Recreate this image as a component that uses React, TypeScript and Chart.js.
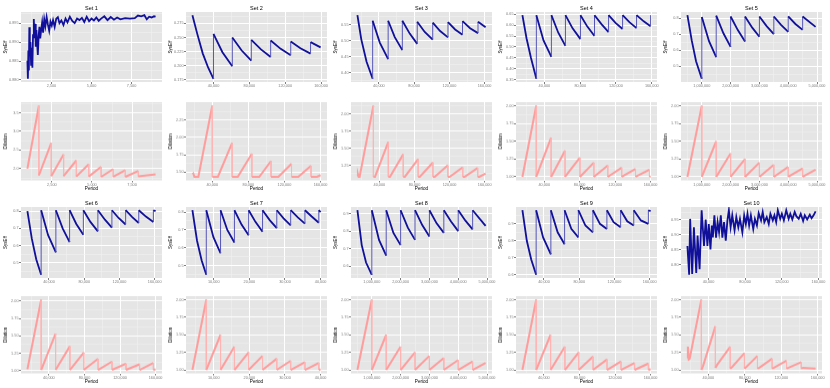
import React, { useEffect, useRef } from "react";
import { Chart, registerables } from "chart.js";

Chart.register(...registerables);

// ---------------- Set 1 ----------------
const set1EffPeriod = [1000, 1030, 1060, 1090, 1120, 1150, 1190, 1230, 1270, 1310, 1350, 1400, 1440, 1480, 1520, 1560, 1600, 1650, 1700, 1750, 1800, 1860, 1920, 1980, 2050, 2120, 2200, 2280, 2360, 2440, 2520, 2600, 2700, 2800, 2900, 3000, 3120, 3250, 3380, 3500, 3650, 3800, 3950, 4100, 4250, 4400, 4550, 4700, 4850, 5000, 5150, 5300, 5450, 5600, 5800, 6000, 6200, 6400, 6600, 6800, 7100, 7400, 7700, 7900, 8100, 8300, 8450, 8600, 8750, 8900, 9000];
const set1SysEff = [0.8851, 0.8803, 0.8878, 0.8825, 0.8939, 0.887, 0.89, 0.884, 0.8885, 0.8832, 0.8918, 0.8961, 0.891, 0.8948, 0.8888, 0.8932, 0.8902, 0.8866, 0.8915, 0.894, 0.891, 0.8932, 0.8952, 0.8925, 0.896, 0.8942, 0.8966, 0.8946, 0.893, 0.8954, 0.8944, 0.8958, 0.894, 0.8962, 0.8966, 0.895, 0.8957, 0.8945, 0.8962, 0.8952, 0.8967, 0.8956, 0.895, 0.8962, 0.8958, 0.8964, 0.8953, 0.8967, 0.8955, 0.8962, 0.8957, 0.8965, 0.8956, 0.8962, 0.8968, 0.8958, 0.8966, 0.8959, 0.8965, 0.896, 0.8963, 0.8962, 0.8963, 0.897, 0.8968, 0.8971, 0.896, 0.8967, 0.8965, 0.8968, 0.8967];
const set1EffXTicks = ["2,500", "5,000", "7,500"];
const set1EffYTicks = ["0.880", "0.885", "0.890", "0.895"];
const set1DilPeriod = [975, 1690, 1690, 2463, 2463, 3232, 3232, 4025, 4025, 4800, 4800, 5573, 5573, 6325, 6325, 7075, 7075, 7890, 7890, 8966];
const set1Dilation = [2.0, 3.69, 1.82, 2.69, 1.8, 2.38, 1.8, 2.22, 1.79, 2.12, 1.79, 2.05, 1.78, 1.99, 1.78, 1.96, 1.78, 1.94, 1.79, 1.85];
const set1DilXTicks = ["2,500", "5,000", "7,500"];
const set1DilYTicks = ["2.0", "2.5", "3.0", "3.5"];

// ---------------- Set 2 ----------------
const set2EffPeriod = [16500, 22000, 28000, 34000, 40000, 40000, 50000, 61000, 61000, 71500, 82200, 82200, 93000, 103800, 103800, 115000, 126200, 126200, 137000, 148300, 148300, 159500];
const set2SysEff = [0.2895, 0.256, 0.222, 0.197, 0.177, 0.2564, 0.224, 0.1994, 0.25, 0.227, 0.2093, 0.2459, 0.229, 0.2157, 0.2448, 0.23, 0.2186, 0.243, 0.231, 0.2215, 0.2419, 0.2326];
const set2EffXTicks = ["40,000", "80,000", "120,000", "160,000"];
const set2EffYTicks = ["0.175", "0.200", "0.225", "0.250", "0.275"];
const set2DilPeriod = [18000, 19000, 20200, 24600, 40000, 40000, 46200, 62000, 62000, 68200, 83900, 83900, 92000, 105100, 105100, 113200, 127800, 127800, 135200, 149400, 149400, 156000, 160000];
const set2Dilation = [1.47, 1.48, 1.43, 1.43, 2.46, 1.43, 1.43, 1.92, 1.43, 1.43, 1.765, 1.43, 1.43, 1.66, 1.43, 1.43, 1.62, 1.43, 1.43, 1.59, 1.43, 1.43, 1.455];
const set2DilXTicks = ["40,000", "80,000", "120,000", "160,000"];
const set2DilYTicks = ["1.50", "1.75", "2.00", "2.25"];

// ---------------- Set 3 ----------------
const set3EffPeriod = [15600, 20000, 26000, 32900, 32900, 41000, 50500, 50500, 58000, 66600, 66600, 75000, 83500, 83500, 92000, 101100, 101100, 109500, 118400, 118400, 126500, 134900, 134900, 143500, 152500, 152500, 161100];
const set3SysEff = [0.5806, 0.505, 0.435, 0.3816, 0.5633, 0.495, 0.4429, 0.5633, 0.512, 0.4714, 0.5633, 0.523, 0.4908, 0.5602, 0.528, 0.5041, 0.5571, 0.531, 0.5112, 0.5592, 0.536, 0.5194, 0.5622, 0.54, 0.5245, 0.5602, 0.5429];
const set3EffXTicks = ["40,000", "80,000", "120,000", "160,000"];
const set3EffYTicks = ["0.40", "0.45", "0.50", "0.55"];
const set3DilPeriod = [15000, 15600, 16500, 17500, 33200, 33200, 35000, 50200, 50200, 52000, 67200, 67200, 69000, 84200, 84200, 86000, 101000, 101000, 103000, 118000, 118000, 120000, 135000, 135000, 137000, 152000, 152000, 154000, 161000];
const set3Dilation = [1.09, 1.12, 1.08, 1.08, 2.12, 1.08, 1.08, 1.59, 1.08, 1.08, 1.41, 1.08, 1.08, 1.34, 1.08, 1.08, 1.29, 1.08, 1.08, 1.25, 1.08, 1.08, 1.22, 1.08, 1.08, 1.21, 1.08, 1.08, 1.13];
const set3DilXTicks = ["40,000", "80,000", "120,000", "160,000"];
const set3DilYTicks = ["1.25", "1.50", "1.75", "2.00"];

// ---------------- Set 4 ----------------
const set4EffPeriod = [15400, 20000, 25000, 31000, 31000, 39000, 47800, 47800, 55500, 63500, 63500, 71500, 80300, 80300, 88000, 96000, 96000, 104000, 111700, 111700, 119500, 127400, 127400, 135000, 143000, 143000, 151000, 158700, 158700];
const set4SysEff = [0.645, 0.54, 0.45, 0.355, 0.645, 0.53, 0.455, 0.645, 0.565, 0.505, 0.645, 0.585, 0.536, 0.645, 0.593, 0.55, 0.645, 0.603, 0.568, 0.645, 0.61, 0.582, 0.645, 0.613, 0.586, 0.645, 0.617, 0.595, 0.645];
const set4EffXTicks = ["40,000", "80,000", "120,000", "160,000"];
const set4EffYTicks = ["0.35", "0.40", "0.45", "0.50", "0.55", "0.60", "0.65"];
const set4DilPeriod = [15400, 31000, 31000, 47800, 47800, 63500, 63500, 80300, 80300, 96000, 96000, 111700, 111700, 127400, 127400, 143000, 143000, 158700, 158700, 160000];
const set4Dilation = [1.0, 2.0, 1.0, 1.55, 1.0, 1.37, 1.0, 1.27, 1.0, 1.2, 1.0, 1.16, 1.0, 1.13, 1.0, 1.11, 1.0, 1.1, 1.0, 1.01];
const set4DilXTicks = ["40,000", "80,000", "120,000", "160,000"];
const set4DilYTicks = ["1.00", "1.25", "1.50", "1.75", "2.00"];

// ---------------- Set 5 ----------------
const set5EffPeriod = [500000, 650000, 800000, 1000000, 1000000, 1250000, 1500000, 1500000, 1750000, 2000000, 2000000, 2250000, 2500000, 2500000, 2750000, 3000000, 3000000, 3250000, 3500000, 3500000, 3750000, 4000000, 4000000, 4250000, 4500000, 4500000, 4950000];
const set5SysEff = [0.818, 0.66, 0.53, 0.42, 0.806, 0.655, 0.555, 0.815, 0.705, 0.62, 0.81, 0.725, 0.653, 0.81, 0.74, 0.683, 0.81, 0.75, 0.7, 0.81, 0.757, 0.714, 0.81, 0.763, 0.726, 0.81, 0.745];
const set5EffXTicks = ["1,000,000", "2,000,000", "3,000,000", "4,000,000", "5,000,000"];
const set5EffYTicks = ["0.5", "0.6", "0.7", "0.8"];
const set5DilPeriod = [500000, 1000000, 1000000, 1500000, 1500000, 2000000, 2000000, 2500000, 2500000, 3000000, 3000000, 3500000, 3500000, 4000000, 4000000, 4500000, 4500000, 4950000];
const set5Dilation = [1.0, 2.0, 1.0, 1.5, 1.0, 1.33, 1.0, 1.25, 1.0, 1.2, 1.0, 1.17, 1.0, 1.14, 1.0, 1.12, 1.0, 1.1];
const set5DilXTicks = ["1,000,000", "2,000,000", "3,000,000", "4,000,000", "5,000,000"];
const set5DilYTicks = ["1.00", "1.25", "1.50", "1.75", "2.00"];

// ---------------- Set 6 ----------------
const set6EffPeriod = [15500, 20500, 25500, 31100, 31100, 39000, 47800, 47800, 55500, 63400, 63400, 71000, 79000, 79000, 87000, 95500, 95500, 103500, 111400, 111400, 119000, 127000, 127000, 134500, 141900, 141900, 150000, 158500, 158500, 161000];
const set6SysEff = [0.8, 0.64, 0.52, 0.43, 0.805, 0.66, 0.56, 0.805, 0.7, 0.62, 0.805, 0.725, 0.663, 0.805, 0.737, 0.682, 0.805, 0.75, 0.704, 0.805, 0.76, 0.722, 0.805, 0.765, 0.731, 0.805, 0.768, 0.737, 0.805, 0.8];
const set6EffXTicks = ["40,000", "80,000", "120,000", "160,000"];
const set6EffYTicks = ["0.5", "0.6", "0.7", "0.8"];
const set6DilPeriod = [15800, 31300, 31300, 47500, 47500, 63600, 63600, 79200, 79200, 95300, 95300, 111000, 111000, 126700, 126700, 142000, 142000, 157500, 157500, 160000];
const set6Dilation = [1.02, 2.02, 1.01, 1.53, 1.01, 1.35, 1.01, 1.26, 1.01, 1.17, 1.01, 1.13, 1.01, 1.1, 1.01, 1.09, 1.01, 1.11, 1.01, 1.02];
const set6DilXTicks = ["40,000", "80,000", "120,000", "160,000"];
const set6DilYTicks = ["1.00", "1.25", "1.50", "1.75", "2.00"];

// ---------------- Set 7 ----------------
const set7EffPeriod = [4000, 5300, 6600, 7900, 7900, 9900, 11900, 11900, 13800, 15800, 15800, 17800, 19800, 19800, 21700, 23700, 23700, 25700, 27700, 27700, 29600, 31600, 31600, 33600, 35600, 35600, 37500, 39500, 39500, 40000];
const set7SysEff = [0.81, 0.64, 0.53, 0.45, 0.81, 0.66, 0.57, 0.81, 0.7, 0.63, 0.81, 0.73, 0.67, 0.81, 0.745, 0.69, 0.81, 0.755, 0.71, 0.81, 0.765, 0.725, 0.81, 0.77, 0.735, 0.81, 0.775, 0.74, 0.81, 0.8];
const set7EffXTicks = ["10,000", "20,000", "30,000", "40,000"];
const set7EffYTicks = ["0.5", "0.6", "0.7", "0.8"];
const set7DilPeriod = [4000, 7900, 7900, 11900, 11900, 15800, 15800, 19800, 19800, 23700, 23700, 27700, 27700, 31600, 31600, 35600, 35600, 39500, 39500, 40000];
const set7Dilation = [1.0, 2.0, 1.0, 1.5, 1.0, 1.33, 1.0, 1.25, 1.0, 1.2, 1.0, 1.16, 1.0, 1.13, 1.0, 1.11, 1.0, 1.1, 1.0, 1.01];
const set7DilXTicks = ["10,000", "20,000", "30,000", "40,000"];
const set7DilYTicks = ["1.00", "1.25", "1.50", "1.75", "2.00"];

// ---------------- Set 8 ----------------
const set8EffPeriod = [500000, 650000, 800000, 1000000, 1000000, 1250000, 1500000, 1500000, 1750000, 2000000, 2000000, 2250000, 2500000, 2500000, 2750000, 3000000, 3000000, 3250000, 3500000, 3500000, 3750000, 4000000, 4000000, 4250000, 4500000, 4500000, 4950000];
const set8SysEff = [0.92, 0.72, 0.62, 0.55, 0.92, 0.75, 0.66, 0.92, 0.79, 0.72, 0.92, 0.82, 0.75, 0.92, 0.835, 0.77, 0.92, 0.845, 0.79, 0.92, 0.855, 0.8, 0.92, 0.86, 0.81, 0.92, 0.83];
const set8EffXTicks = ["1,000,000", "2,000,000", "3,000,000", "4,000,000", "5,000,000"];
const set8EffYTicks = ["0.6", "0.7", "0.8", "0.9"];
const set8DilPeriod = [500000, 1000000, 1000000, 1500000, 1500000, 2000000, 2000000, 2500000, 2500000, 3000000, 3000000, 3500000, 3500000, 4000000, 4000000, 4500000, 4500000, 4950000];
const set8Dilation = [1.0, 2.0, 1.0, 1.5, 1.0, 1.33, 1.0, 1.25, 1.0, 1.2, 1.0, 1.17, 1.0, 1.14, 1.0, 1.12, 1.0, 1.1];
const set8DilXTicks = ["1,000,000", "2,000,000", "3,000,000", "4,000,000", "5,000,000"];
const set8DilYTicks = ["1.00", "1.25", "1.50", "1.75", "2.00"];

// ---------------- Set 9 ----------------
const set9EffPeriod = [15500, 20500, 25500, 31100, 31100, 39000, 47800, 47800, 55500, 63400, 63400, 71000, 79000, 79000, 87000, 95500, 95500, 103500, 111400, 111400, 119000, 127000, 127000, 134500, 141900, 141900, 150000, 158500, 158500, 161000];
const set9SysEff = [0.98, 0.8, 0.69, 0.6, 0.98, 0.82, 0.72, 0.98, 0.85, 0.78, 0.98, 0.87, 0.82, 0.98, 0.89, 0.85, 0.98, 0.9, 0.87, 0.98, 0.91, 0.88, 0.98, 0.915, 0.89, 0.98, 0.92, 0.9, 0.98, 0.975];
const set9EffXTicks = ["40,000", "80,000", "120,000", "160,000"];
const set9EffYTicks = ["0.6", "0.7", "0.8", "0.9", "1.0"];
const set9DilPeriod = [15800, 31300, 31300, 47500, 47500, 63600, 63600, 79200, 79200, 95300, 95300, 111000, 111000, 126700, 126700, 142000, 142000, 157500, 157500, 160000];
const set9Dilation = [1.0, 2.0, 1.0, 1.5, 1.0, 1.33, 1.0, 1.25, 1.0, 1.19, 1.0, 1.15, 1.0, 1.12, 1.0, 1.1, 1.0, 1.09, 1.0, 1.01];
const set9DilXTicks = ["40,000", "80,000", "120,000", "160,000"];
const set9DilYTicks = ["1.00", "1.25", "1.50", "1.75", "2.00"];

// ---------------- Set 10 ----------------
const set10EffPeriod = [17060, 18950, 20060, 22270, 24160, 26700, 28150, 30360, 32580, 35160, 37000, 38890, 40370, 42220, 43690, 44800, 46500, 48300, 50000, 51600, 53500, 55200, 57000, 58900, 60700, 62300, 64200, 66000, 68500, 70400, 72600, 74400, 77000, 79000, 80800, 82600, 84400, 86300, 88900, 90700, 92900, 94800, 97400, 99200, 101000, 103600, 105800, 107600, 110200, 112000, 113900, 115700, 118300, 120100, 122300, 124900, 127500, 129300, 131500, 134100, 135900, 138500, 140700, 143300, 145100, 147700, 150600, 152500, 154700, 156900];
const set10SysEff = [0.8625, 0.766, 0.953, 0.769, 0.925, 0.772, 0.897, 0.785, 0.982, 0.8625, 0.951, 0.8625, 0.936, 0.851, 0.931, 0.891, 0.965, 0.89, 0.942, 0.908, 0.965, 0.89, 0.942, 0.88, 0.948, 0.982, 0.925, 0.965, 0.915, 0.959, 0.925, 0.953, 0.908, 0.965, 0.936, 0.97, 0.931, 0.965, 0.919, 0.953, 0.931, 0.972, 0.948, 0.976, 0.942, 0.959, 0.936, 0.97, 0.948, 0.965, 0.942, 0.982, 0.953, 0.97, 0.948, 0.982, 0.953, 0.97, 0.951, 0.976, 0.962, 0.953, 0.97, 0.946, 0.965, 0.951, 0.967, 0.955, 0.965, 0.978];
const set10EffXTicks = ["40,000", "80,000", "120,000", "160,000"];
const set10EffYTicks = ["0.80", "0.85", "0.90", "0.95"];
const set10DilPeriod = [17000, 17500, 18500, 19500, 32300, 32300, 34000, 47700, 47700, 49500, 64000, 64000, 66000, 79600, 79600, 81500, 93900, 93900, 96000, 110000, 110000, 112000, 125800, 125800, 128000, 142000, 142000, 144000, 157700];
const set10Dilation = [1.17, 1.33, 1.15, 1.16, 2.0, 1.0, 1.05, 1.62, 1.03, 1.07, 1.33, 1.02, 1.04, 1.24, 1.02, 1.04, 1.2, 1.02, 1.03, 1.16, 1.02, 1.03, 1.13, 1.02, 1.03, 1.11, 1.02, 1.03, 1.02];
const set10DilXTicks = ["40,000", "80,000", "120,000", "160,000"];
const set10DilYTicks = ["1.00", "1.25", "1.50", "1.75", "2.00"];

type PanelDef = {
  title: string | null;
  col: number;
  row: number;
  kind: "eff" | "dil";
  x: number[];
  y: number[];
  xTicks: string[];
  yTicks: string[];
};

const SETS = [
  [set1EffPeriod, set1SysEff, set1EffXTicks, set1EffYTicks, set1DilPeriod, set1Dilation, set1DilXTicks, set1DilYTicks],
  [set2EffPeriod, set2SysEff, set2EffXTicks, set2EffYTicks, set2DilPeriod, set2Dilation, set2DilXTicks, set2DilYTicks],
  [set3EffPeriod, set3SysEff, set3EffXTicks, set3EffYTicks, set3DilPeriod, set3Dilation, set3DilXTicks, set3DilYTicks],
  [set4EffPeriod, set4SysEff, set4EffXTicks, set4EffYTicks, set4DilPeriod, set4Dilation, set4DilXTicks, set4DilYTicks],
  [set5EffPeriod, set5SysEff, set5EffXTicks, set5EffYTicks, set5DilPeriod, set5Dilation, set5DilXTicks, set5DilYTicks],
  [set6EffPeriod, set6SysEff, set6EffXTicks, set6EffYTicks, set6DilPeriod, set6Dilation, set6DilXTicks, set6DilYTicks],
  [set7EffPeriod, set7SysEff, set7EffXTicks, set7EffYTicks, set7DilPeriod, set7Dilation, set7DilXTicks, set7DilYTicks],
  [set8EffPeriod, set8SysEff, set8EffXTicks, set8EffYTicks, set8DilPeriod, set8Dilation, set8DilXTicks, set8DilYTicks],
  [set9EffPeriod, set9SysEff, set9EffXTicks, set9EffYTicks, set9DilPeriod, set9Dilation, set9DilXTicks, set9DilYTicks],
  [set10EffPeriod, set10SysEff, set10EffXTicks, set10EffYTicks, set10DilPeriod, set10Dilation, set10DilXTicks, set10DilYTicks],
] as any[];

const PANELS: PanelDef[] = [];
SETS.forEach((s, i) => {
  const col = i % 5;
  const band = Math.floor(i / 5) * 2;
  PANELS.push({ title: "Set " + (i + 1), col, row: band, kind: "eff", x: s[0], y: s[1], xTicks: s[2], yTicks: s[3] });
  PANELS.push({ title: null, col, row: band + 1, kind: "dil", x: s[4], y: s[5], xTicks: s[6], yTicks: s[7] });
});

// ---------------- layout / style ----------------
const FONT = "'Liberation Sans', Arial, Helvetica, sans-serif";
const EFF_COLOR = "#10109A";
const EFF_JUMP = "#5555B8";
const DIL_COLOR = "#FF9C9C";
const DIL_JUMP = "#FFB4B4";
const COL_LEFT = [21, 186, 351, 516, 681];
const PLOT_W = 141;
const ROW_TOP = [12, 102, 207, 296];
const ROW_BOTTOM = [82, 180, 278, 373];
const Y_AXIS_W = 21;
const PAD_TOP = 12;
const PAD_RIGHT = 18;

type TickItem = { value: number; label: string; major: boolean };

function buildTicks(labels: string[], min: number, max: number): TickItem[] {
  const majors = labels.map((s) => ({ value: parseFloat(s.replace(/,/g, "")), label: s, major: true }));
  const step = majors.length > 1 ? majors[1].value - majors[0].value : 1;
  const all: TickItem[] = majors.filter((m) => m.value >= min && m.value <= max);
  const cands = [majors[0].value - step / 2, ...majors.map((m) => m.value + step / 2)];
  cands.forEach((c) => {
    if (c > min && c < max) all.push({ value: c, label: "", major: false });
  });
  all.sort((a, b) => a.value - b.value);
  return all;
}

const panelPlugin = {
  id: "panelDecor",
  beforeDraw(chart: any) {
    const { ctx, chartArea } = chart;
    ctx.save();
    ctx.fillStyle = "#E5E5E5";
    ctx.fillRect(chartArea.left, chartArea.top, chartArea.right - chartArea.left, chartArea.bottom - chartArea.top);
    ctx.restore();
  },
  afterDraw(chart: any) {
    const title = chart.options.plugins.panelDecor?.title;
    if (!title) return;
    const { ctx, chartArea } = chart;
    ctx.save();
    ctx.fillStyle = "#000";
    ctx.font = `5.5px ${FONT}`;
    ctx.textAlign = "center";
    ctx.textBaseline = "middle";
    ctx.fillText(title, (chartArea.left + chartArea.right) / 2, chartArea.top - 4);
    ctx.restore();
  },
};

function Panel({ p }: { p: PanelDef }) {
  const ref = useRef<HTMLCanvasElement | null>(null);
  const isDil = p.kind === "dil";
  const xh = isDil ? 10.5 : 8;
  const left = COL_LEFT[p.col] - Y_AXIS_W;
  const top = ROW_TOP[p.row] - PAD_TOP;
  const w = Y_AXIS_W + PLOT_W + PAD_RIGHT;
  const h = PAD_TOP + (ROW_BOTTOM[p.row] - ROW_TOP[p.row]) + xh;

  useEffect(() => {
    if (!ref.current) return;
    const xmin = Math.min(...p.x);
    const xmax = Math.max(...p.x);
    const ymin = Math.min(...p.y);
    const ymax = Math.max(...p.y);
    const dx = (xmax - xmin) * 0.05;
    const dy = (ymax - ymin) * 0.05;
    const xr = [xmin - dx, xmax + dx];
    const yr = [ymin - dy, ymax + dy];
    const xt = buildTicks(p.xTicks, xr[0], xr[1]);
    const yt = buildTicks(p.yTicks, yr[0], yr[1]);

    const gridFor = (ticks: TickItem[]) => ({
      color: (c: any) => (ticks[c.index] && ticks[c.index].major ? "#FFFFFF" : "#F2F2F2"),
      lineWidth: (c: any) => (ticks[c.index] && ticks[c.index].major ? 1 : 0.5),
      tickColor: (c: any) => (ticks[c.index] && ticks[c.index].major ? "#7F7F7F" : "rgba(0,0,0,0)"),
      tickLength: 2,
      drawTicks: true,
      drawOnChartArea: true,
    });

    const isJump = (c: any) => c.p0 && c.p1 && c.p0.parsed.x === c.p1.parsed.x;
    const mainColor = isDil ? DIL_COLOR : EFF_COLOR;
    const jumpColor = isDil ? DIL_JUMP : EFF_JUMP;
    const mainWidth = isDil ? 2 : 1.8;

    const chart = new Chart(ref.current, {
      type: "line",
      data: {
        datasets: [
          {
            data: p.x.map((xv, i) => ({ x: xv, y: p.y[i] })),
            borderColor: mainColor,
            borderWidth: mainWidth,
            pointRadius: 0,
            tension: 0,
            fill: false,
            segment: {
              borderWidth: (c: any) => (isJump(c) ? 1 : mainWidth),
              borderColor: (c: any) => (isJump(c) ? jumpColor : mainColor),
            },
          },
        ],
      },
      options: {
        animation: false,
        responsive: false,
        events: [],
        layout: { padding: { left: 0, top: PAD_TOP, right: PAD_RIGHT, bottom: 0 } },
        plugins: {
          legend: { display: false },
          tooltip: { enabled: false },
          title: { display: false },
          panelDecor: { title: p.title },
        } as any,
        scales: {
          x: {
            type: "linear",
            min: xr[0],
            max: xr[1],
            afterBuildTicks: (s: any) => {
              s.ticks = xt.map((t) => ({ value: t.value }));
            },
            afterFit: (s: any) => {
              s.height = xh;
              s.paddingLeft = 0;
              s.paddingRight = 0;
              s.paddingTop = 0;
              s.paddingBottom = 0;
            },
            ticks: {
              autoSkip: false,
              maxRotation: 0,
              minRotation: 0,
              padding: 0,
              color: "#7F7F7F",
              font: { size: 3.8, family: FONT },
              callback: (_v: any, i: number) => (xt[i] ? xt[i].label : ""),
            },
            grid: gridFor(xt),
            border: { display: false },
            title: {
              display: isDil,
              text: "Period",
              color: "#000",
              font: { size: 4.6, family: FONT },
              padding: { top: 0, bottom: 0 },
            },
          },
          y: {
            type: "linear",
            min: yr[0],
            max: yr[1],
            afterBuildTicks: (s: any) => {
              s.ticks = yt.map((t) => ({ value: t.value }));
            },
            afterFit: (s: any) => {
              s.width = Y_AXIS_W;
              s.paddingLeft = 0;
              s.paddingRight = 0;
              s.paddingTop = 0;
              s.paddingBottom = 0;
            },
            ticks: {
              autoSkip: false,
              padding: 0.5,
              color: "#7F7F7F",
              font: { size: 3.8, family: FONT },
              callback: (_v: any, i: number) => (yt[i] ? yt[i].label : ""),
            },
            grid: gridFor(yt),
            border: { display: false },
            title: {
              display: true,
              text: isDil ? "Dilation" : "SysEff",
              color: "#000",
              font: { size: 4.6, family: FONT },
              padding: { top: 3, bottom: 0 },
            },
          },
        },
      } as any,
      plugins: [panelPlugin],
    });
    return () => chart.destroy();
  }, []);

  return (
    <canvas
      ref={ref}
      width={w}
      height={h}
      style={{ position: "absolute", left, top, width: w, height: h }}
    />
  );
}

export default function App() {
  return (
    <div
      style={{
        position: "absolute",
        left: 0,
        top: 0,
        width: 830,
        height: 388,
        background: "#FFFFFF",
        overflow: "hidden",
      }}
    >
      {PANELS.map((p, i) => (
        <Panel key={i} p={p} />
      ))}
    </div>
  );
}
